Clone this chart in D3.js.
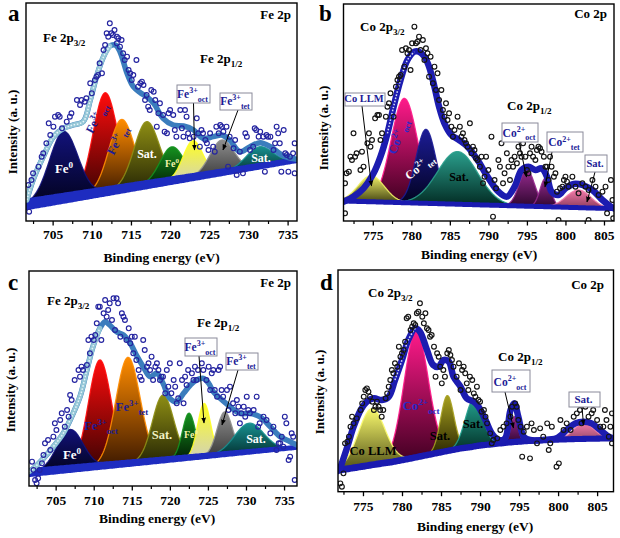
<!DOCTYPE html>
<html><head><meta charset="utf-8">
<script src="https://cdn.jsdelivr.net/npm/d3@7"></script>
<style>
body{margin:0;background:#fff;}
svg text{font-family:"Liberation Serif","Times New Roman",serif;font-weight:bold;}
</style></head><body>
<svg id="chart" width="620" height="538"></svg>
<script>
// ---------------- DATA ----------------
const xTicksFe = [705,710,715,720,725,730,735];
const xTicksCo = [775,780,785,790,795,800,805];
const xMinorFe = [702.5,707.5,712.5,717.5,722.5,727.5,732.5];
const xMinorCo = [772.5,777.5,782.5,787.5,792.5,797.5,802.5];

// Panel a (Fe 2p)
const aPeakNames = ["Fe0","Fe3+ oct","Fe3+ tet","Sat.","Fe0","Fe3+ oct","Fe3+ tet","Sat."];
const aPeakCenters = [706.4,711.7,713.8,717.0,720.2,722.9,726.6,731.4];
const aPeakHeights = [200,296,208,189,101,109,97,58];
const aPeakWidths  = [1.8,1.55,1.6,1.6,1.5,1.25,1.5,1.7];
const aBackground = [[701.6,50],[736.2,183]];
const aEnvelope = [[701.7,63],[702.5,123],[703.8,193],[705.1,253],[706.4,278],[707.6,288],[708.9,298],[709.8,363],[710.6,433],[711.5,493],[712.3,525],[713.0,528],[713.6,508],[714.5,443],[715.3,403],[716.2,385],[717.0,373],[717.9,353],[719.1,308],[720.4,288],[721.7,285],[723.0,273],[724.2,248],[725.5,253],[726.6,258],[727.6,243],[728.9,208],[730.2,223],[731.5,235],[732.8,223],[734.5,195],[736.2,185]];
const aPoints = [[701.9,108],[702.0,28],[702.3,123],[702.5,143],[703.2,163],[703.6,193],[703.8,203],[704.2,233],[704.5,293],[704.7,258],[705.1,283],[705.3,313],[705.7,318],[705.9,313],[706.2,278],[706.8,298],[707.2,313],[707.4,323],[708.1,363],[708.5,348],[708.7,363],[709.1,358],[709.3,368],[709.8,413],[710.0,383],[710.4,423],[710.6,433],[710.8,438],[711.0,473],[711.3,443],[711.5,513],[711.7,528],[711.9,563],[712.1,553],[712.3,593],[712.5,563],[712.7,558],[712.9,573],[713.2,553],[713.4,548],[713.2,533],[713.6,523],[713.8,543],[714.0,503],[714.2,483],[714.5,493],[714.7,453],[714.9,443],[715.1,423],[715.3,438],[715.7,483],[715.9,403],[716.2,413],[716.4,418],[716.6,408],[716.8,363],[717.0,378],[717.2,343],[717.4,333],[717.6,393],[717.9,388],[718.1,363],[718.3,283],[718.5,323],[718.7,353],[719.1,318],[719.3,268],[719.6,263],[719.8,323],[720.0,333],[720.4,318],[720.6,273],[720.8,253],[721.3,333],[721.5,278],[721.7,253],[721.9,333],[722.1,313],[722.3,263],[722.5,248],[723.0,253],[723.4,308],[723.6,263],[723.8,223],[724.0,273],[724.2,263],[724.5,243],[724.7,233],[724.9,213],[725.1,263],[725.5,223],[725.7,208],[725.9,283],[726.2,263],[726.4,288],[726.6,283],[726.8,268],[727.2,283],[727.4,163],[727.6,253],[728.1,218],[728.3,243],[728.5,138],[728.9,208],[729.3,143],[729.6,263],[729.8,253],[730.2,213],[730.6,223],[730.8,278],[731.0,273],[731.3,253],[731.5,268],[731.9,253],[732.1,148],[732.3,258],[732.5,253],[732.8,253],[733.2,213],[733.4,233],[733.6,283],[733.8,263],[734.0,233],[734.2,148],[734.5,273],[734.7,203],[734.9,198],[735.1,148],[735.3,193],[735.7,203],[735.9,233],[735.9,143]];

// Panel b (Co 2p)
const bPeakNames = ["Co LLM","Co2+ oct","Co2+ tet","Sat.","Co2+ oct","Co2+ tet","Sat."];
const bPeakCenters = [774.8,779.1,781.9,786.0,795.0,797.4,801.7];
const bPeakHeights = [78,313,222,158,109,85,53];
const bPeakWidths  = [1.7,1.7,1.3,2.6,1.0,0.7,1.6];
const bBackground = [[771.2,60],[806.3,37]];
const bEnvelope = [[771.2,58],[772.5,73],[773.8,98],[775.1,143],[776.0,193],[776.9,263],[777.7,343],[778.6,423],[779.5,483],[780.4,508],[781.0,508],[781.7,493],[782.3,463],[783.0,403],[783.6,343],[784.3,293],[785.2,258],[786.2,243],[787.3,223],[788.6,183],[789.9,133],[791.3,88],[792.4,73],[793.4,103],[794.3,153],[795.2,163],[796.1,153],[796.9,158],[797.6,133],[798.2,88],[799.1,78],[800.0,98],[801.1,111],[802.2,108],[803.5,93],[804.8,63],[805.9,43],[806.3,38]];
const bPoints = [[771.4,113],[771.4,23],[771.6,143],[771.9,148],[772.1,193],[772.3,183],[772.5,263],[772.7,193],[772.9,203],[773.4,153],[773.6,208],[773.8,163],[774.3,233],[774.5,263],[774.7,223],[774.9,243],[775.3,308],[775.6,318],[775.8,318],[776.0,243],[776.2,263],[776.7,313],[776.9,343],[777.1,353],[777.3,383],[777.7,313],[778.0,403],[778.2,423],[778.4,433],[778.6,438],[778.8,513],[779.1,463],[779.3,518],[779.5,503],[779.7,513],[779.9,453],[780.1,533],[780.4,583],[780.6,533],[780.8,538],[781.0,553],[781.2,513],[781.5,543],[781.7,483],[781.9,518],[782.1,503],[782.3,433],[782.5,493],[782.8,413],[783.0,463],[783.2,393],[783.4,443],[783.6,363],[783.9,393],[784.1,333],[784.3,313],[784.5,353],[784.7,303],[784.9,323],[785.2,283],[785.4,253],[785.6,273],[786.0,313],[786.3,283],[786.5,253],[786.7,263],[786.9,243],[787.1,233],[787.3,223],[787.6,293],[787.8,203],[788.0,223],[788.2,213],[788.4,188],[788.6,183],[788.9,163],[789.1,193],[789.3,113],[789.5,133],[789.7,193],[790.0,153],[790.4,253],[790.6,13],[790.8,123],[791.0,98],[791.3,183],[791.5,163],[791.7,233],[791.9,113],[792.1,143],[792.4,203],[792.6,163],[792.8,123],[793.0,183],[793.2,163],[793.4,193],[793.7,173],[793.9,223],[794.1,203],[794.3,193],[794.5,233],[794.8,193],[795.0,153],[795.2,143],[795.4,203],[795.6,223],[795.8,193],[796.1,183],[796.3,213],[796.5,223],[796.7,218],[796.9,208],[797.2,193],[797.4,163],[797.6,163],[797.8,123],[798.0,193],[798.2,163],[798.5,133],[798.7,143],[798.9,88],[799.1,3],[799.3,98],[799.6,103],[799.8,123],[800.0,133],[800.2,118],[800.4,103],[800.9,133],[801.3,103],[801.7,83],[802.2,113],[802.6,103],[803.0,93],[803.5,123],[803.9,103],[804.3,78],[804.8,88],[805.2,103],[805.4,23],[805.9,123],[806.1,63],[806.2,8],[803.0,3]];

// Panel c (Fe 2p)
const cPeakNames = aPeakNames;
const cPeakCenters = [706.9,710.8,714.5,719.1,722.5,724.5,727.2,730.4];
const cPeakHeights = [118,318,318,195,133,158,127,86];
const cPeakWidths  = [1.7,1.5,1.6,1.4,0.85,0.85,1.0,1.9];
const cBackground = [[701.5,40],[736.7,116]];
const cEnvelope = [[701.5,43],[702.1,53],[703.4,83],[704.7,118],[706.0,158],[707.1,208],[708.2,268],[709.1,348],[709.9,418],[710.8,473],[711.5,493],[712.1,483],[713.0,463],[713.9,453],[714.8,428],[715.6,393],[716.5,358],[717.4,328],[718.3,338],[719.1,308],[720.0,263],[720.9,253],[721.8,278],[722.7,303],[723.5,318],[724.4,323],[725.1,308],[725.7,283],[726.6,263],[727.9,238],[729.2,218],[730.5,218],[731.8,208],[733.2,178],[734.5,148],[735.8,133],[736.7,123]];
const cPoints = [[701.9,73],[702.1,48],[702.3,18],[702.5,8],[702.7,23],[702.9,48],[703.2,68],[703.4,93],[703.6,128],[704.0,138],[704.3,108],[704.7,148],[704.9,188],[705.1,168],[705.6,198],[705.8,218],[706.2,178],[706.5,228],[706.7,208],[706.9,273],[707.1,258],[707.5,318],[708.0,348],[708.2,328],[708.4,358],[708.6,348],[709.1,363],[709.3,438],[709.5,398],[709.7,448],[710.0,438],[710.2,453],[710.4,488],[710.6,538],[710.8,538],[711.0,438],[711.3,518],[711.5,558],[711.7,508],[711.9,528],[712.1,548],[712.4,498],[712.6,563],[712.8,468],[713.0,563],[713.2,548],[713.5,448],[713.7,518],[713.9,508],[714.1,498],[714.3,438],[714.6,473],[714.8,428],[715.0,448],[715.2,398],[715.4,448],[715.6,378],[715.9,348],[716.1,328],[716.3,318],[716.5,438],[716.7,408],[717.0,358],[717.2,368],[717.4,348],[717.6,388],[717.8,318],[718.1,358],[718.3,368],[718.5,348],[718.7,318],[718.9,328],[719.1,328],[719.4,278],[719.6,348],[719.8,298],[720.0,368],[720.2,278],[720.5,318],[720.7,298],[720.9,248],[721.1,263],[721.3,368],[721.6,318],[721.8,248],[722.0,328],[722.2,303],[722.4,348],[722.9,338],[723.1,318],[723.3,358],[723.5,318],[723.7,348],[724.0,398],[724.2,368],[724.4,348],[724.8,318],[725.1,358],[725.3,288],[725.5,338],[725.7,348],[725.9,288],[726.2,268],[726.4,348],[726.6,358],[726.8,288],[727.0,268],[727.5,288],[727.7,228],[727.9,298],[728.3,248],[728.6,218],[728.8,258],[729.0,238],[729.2,188],[729.4,218],[729.7,238],[729.9,208],[730.1,268],[730.3,228],[730.5,218],[731.0,228],[731.4,268],[731.6,178],[731.8,188],[732.3,208],[732.7,198],[733.2,158],[733.6,178],[734.0,108],[734.3,128],[734.5,128],[734.7,148],[734.9,118],[735.1,208],[735.3,188],[735.6,78],[735.8,88],[736.0,158],[736.2,148],[736.4,18]];

// Panel d (Co 2p)
const dPeakNames = ["Co LLM","Co2+ oct","Sat.","Sat.","Co2+ oct","Sat."];
const dPeakCenters = [776.1,781.8,785.8,789.2,794.4,803.3];
const dPeakHeights = [169,379,166,141,76,47];
const dPeakWidths  = [1.7,1.55,0.85,1.1,0.45,1.3];
const dBackground = [[771.8,62],[772.0,65],[774.7,75],[776.8,83],[778.9,90],[781.1,100],[783.2,110],[785.3,120],[787.5,130],[789.6,137],[791.7,143],[793.9,148],[796.0,152],[798.1,155],[802.4,158],[807.1,160]];
const dEnvelope = [[772.0,65],[773.0,135],[773.8,195],[774.7,245],[775.5,270],[776.4,280],[777.4,275],[778.3,285],[779.1,335],[780.0,395],[780.8,455],[781.7,490],[782.3,480],[783.2,425],[784.0,380],[784.7,375],[785.3,395],[786.0,390],[786.6,345],[787.5,315],[788.3,280],[789.2,270],[789.8,255],[790.7,215],[791.5,175],[792.4,155],[793.2,160],[793.9,245],[794.4,265],[794.9,225],[795.6,165],[796.4,155],[798.1,155],[799.8,160],[801.1,185],[802.2,205],[803.3,210],[804.3,205],[805.4,185],[806.5,165],[807.1,160]];
const dPoints = [[772.1,25],[772.3,15],[772.5,55],[772.7,145],[773.0,150],[773.2,165],[773.4,195],[773.6,225],[773.8,205],[774.2,220],[774.7,245],[774.9,265],[775.1,285],[775.3,305],[775.5,310],[775.7,300],[775.9,285],[776.2,270],[776.4,245],[776.6,255],[776.8,270],[777.0,255],[777.2,245],[777.4,225],[777.6,245],[777.9,280],[778.1,295],[778.3,315],[778.5,335],[778.7,365],[778.9,355],[779.1,385],[779.4,375],[779.6,435],[779.8,405],[780.0,415],[780.2,425],[780.4,450],[780.6,520],[780.8,525],[781.1,485],[781.3,495],[781.5,505],[781.7,500],[781.9,535],[782.1,540],[782.3,565],[782.6,525],[782.8,505],[783.0,535],[783.2,490],[783.4,485],[783.6,465],[783.8,470],[784.1,435],[784.3,345],[784.5,415],[784.7,405],[784.9,375],[785.1,325],[785.3,365],[785.5,345],[785.8,415],[786.0,425],[786.2,410],[786.4,395],[786.6,375],[787.0,345],[787.3,385],[787.5,305],[787.7,365],[787.9,375],[788.1,355],[788.3,325],[788.5,305],[788.7,345],[789.0,335],[789.2,295],[789.4,285],[789.6,315],[789.8,275],[790.0,270],[790.2,240],[790.5,245],[790.7,225],[790.9,205],[791.3,175],[791.5,145],[791.7,155],[792.2,160],[792.6,185],[793.0,195],[793.4,205],[793.9,225],[794.1,255],[794.5,265],[794.7,255],[794.9,215],[795.2,195],[795.4,105],[795.6,180],[796.0,195],[796.4,100],[796.6,205],[796.9,185],[797.3,145],[797.7,190],[798.1,165],[798.6,205],[798.8,125],[799.0,145],[799.2,195],[799.8,75],[800.1,85],[800.3,215],[800.7,185],[801.1,205],[801.6,185],[802.0,225],[802.4,235],[802.8,245],[803.0,205],[803.5,255],[803.9,225],[804.3,235],[804.5,245],[805.0,215],[805.4,195],[805.8,195],[806.0,245],[806.2,215],[806.5,165],[806.7,195],[806.9,235],[806.9,145]];

// ---------------- STYLES ----------------
const feTop = ['#12127a','#ff0c0c','#ff8c00','#8e8e14','#15921f','#ffff22','#8e8e8e','#189090'];
const feBot = ['#02021c','#3a0202','#3c1800','#262604','#021e04','#d2d2b4','#3a3a3a','#033030'];
const bTop = ['#f2f266','#ff1a8a','#1c1c96','#2a9e8c','#962a8e','#962a8e','#f27aa8'];
const bBot = ['#3e3e10','#3e0020','#02021e','#022a22','#2e062e','#2e062e','#8a3a5a'];
const dTop = ['#fafa6e','#ff1a8a','#a6a020','#22a08e','#9a2a90','#f07aa8'];
const dBot = ['#3a3a0a','#3e0020','#2a2600','#033026','#300630','#9a4a6a'];

const panels = [
 {key:'a', frame:[26,3,297,221], xDom:[701.6,736.2], yMax:654, ticks:xTicksFe, minor:xMinorFe,
  c:aPeakCenters, h:aPeakHeights, w:aPeakWidths, top:feTop, bot:feBot, bg:aBackground, env:aEnvelope, pts:aPoints,
  ptColor:'#2424a0', envColor:'#3b7dbd', envW:5.5, bgColor:'#1e2cc0', band:[12,6], hl:[701.6,712.3], hlColor:'#94c6d6',
  tickPad:4, title:[161.5,262], ytitle:[16.5,132]},
 {key:'b', frame:[343.5,4,614,221], xDom:[771.2,806.3], yMax:651, ticks:xTicksCo, minor:xMinorCo,
  c:bPeakCenters, h:bPeakHeights, w:bPeakWidths, top:bTop, bot:bBot, bg:bBackground, env:bEnvelope, pts:bPoints,
  ptColor:'#151515', envColor:'#1c1cb0', envW:6.5, bgColor:'#1a1ab0', band:[5,5], hl:[776.5,780.4], hlColor:null,
  tickPad:5, title:[479,259], ytitle:[327.5,128]},
 {key:'c', frame:[29,271,297,486], xDom:[701.5,736.7], yMax:645, ticks:xTicksFe, minor:xMinorFe,
  c:cPeakCenters, h:cPeakHeights, w:cPeakWidths, top:feTop, bot:feBot, bg:cBackground, env:cEnvelope, pts:cPoints,
  ptColor:'#2424a0', envColor:'#3b7dbd', envW:5.5, bgColor:'#1e2cc0', band:[9,5], hl:[701.5,711.4], hlColor:'#94c6d6',
  tickPad:5, title:[157,523], ytitle:[14.5,390]},
 {key:'d', frame:[338,270,613.5,491.7], xDom:[771.8,807.1], yMax:665, ticks:xTicksCo, minor:xMinorCo,
  c:dPeakCenters, h:dPeakHeights, w:dPeakWidths, top:dTop, bot:dBot, bg:dBackground, env:dEnvelope, pts:dPoints,
  ptColor:'#151515', envColor:'#1c1cb0', envW:6.5, bgColor:'#1a1ab0', band:[7,6], hl:[778.5,781.7], hlColor:null,
  tickPad:5.5, title:[475,531], ytitle:[323.5,392]}
];

const svg = d3.select('#chart');
const defs = svg.append('defs');
defs.append('marker').attr('id','arr').attr('viewBox','0 0 10 10').attr('refX',9).attr('refY',5)
  .attr('markerWidth',6).attr('markerHeight',6).attr('orient','auto')
  .append('path').attr('d','M0,1 L10,5 L0,9 z').attr('fill','#000');

function rich(g, x, y, parts, o) {
  o = o || {};
  const size = o.size || 12;
  const t = g.append('text')
    .attr('transform', `translate(${x},${y})` + (o.rotate ? ` rotate(${o.rotate})` : ''))
    .attr('text-anchor', o.anchor || 'start')
    .attr('fill', o.color || '#000')
    .style('font-size', size + 'px');
  let cur = 0;
  for (const p of parts) {
    const kind = Array.isArray(p) ? p[1] : 'n';
    const txt = Array.isArray(p) ? p[0] : p;
    const off = kind === 'sup' ? -0.42*size : kind === 'sub' ? 0.32*size : 0;
    t.append('tspan').attr('dy', (off - cur).toFixed(2))
      .style('font-size', (kind === 'n' ? size : size*0.7).toFixed(1) + 'px').text(txt);
    cur = off;
  }
  return t;
}

panels.forEach(P => {
  const [x0,y0,x1,y1] = P.frame;
  const x = d3.scaleLinear().domain(P.xDom).range([x0,x1]);
  const y = d3.scaleLinear().domain([0,P.yMax]).range([y1,y0]);
  const bgF = d3.scaleLinear().domain(P.bg.map(d=>d[0])).range(P.bg.map(d=>d[1]));
  const g = svg.append('g');
  const cid = 'clip' + P.key;
  defs.append('clipPath').attr('id', cid).append('rect').attr('x',x0).attr('y',y0).attr('width',x1-x0).attr('height',y1-y0);
  const inner = g.append('g').attr('clip-path', `url(#${cid})`);

  // component peaks (first component drawn last, on top of its neighbour)
  const order = d3.range(1, P.c.length).concat([0]);
  order.forEach(i => {
    const c = P.c[i], s = P.w[i], h = P.h[i];
    const gid = `grad${P.key}${i}`;
    const gr = defs.append('linearGradient').attr('id',gid).attr('x1',0).attr('y1',0).attr('x2',0).attr('y2',1);
    gr.append('stop').attr('offset','0%').attr('stop-color',P.top[i]);
    gr.append('stop').attr('offset','100%').attr('stop-color',P.bot[i]);
    const xs = d3.range(c-3.4*s, c+3.4*s+1e-9, s/14);
    const area = d3.area().x(e=>x(e)).y0(e=>y(bgF(e))).y1(e=>y(bgF(e) + h*Math.exp(-(e-c)*(e-c)/(2*s*s))));
    inner.append('path').attr('d', area(xs)).attr('fill', `url(#${gid})`)
      .attr('stroke', P.top[i]).attr('stroke-width', 1.3).attr('stroke-opacity', 0.9);
  });

  // background band (thickness tapers left to right)
  const bx = d3.range(P.xDom[0]-0.5, P.xDom[1]+0.5, 0.25);
  const hw = d3.scaleLinear().domain(P.xDom).range([P.band[0]/2, P.band[1]/2]);
  inner.append('path').attr('d', d3.area().x(e=>x(e)).y0(e=>y(bgF(e))+hw(e)).y1(e=>y(bgF(e))-hw(e)).curve(d3.curveMonotoneX)(bx))
    .attr('fill',P.bgColor);

  // envelope
  const envLine = d3.line().x(d=>x(d[0])).y(d=>y(d[1])).curve(d3.curveCatmullRom.alpha(0.5));
  inner.append('path').attr('d', envLine(P.env)).attr('fill','none').attr('stroke',P.envColor)
    .attr('stroke-width',P.envW).attr('stroke-linejoin','round').attr('stroke-linecap','round');
  const hlPts = P.env.filter(d => d[0] >= P.hl[0] && d[0] <= P.hl[1]);
  if (P.hlColor) {
    inner.append('path').attr('d', envLine(hlPts)).attr('fill','none').attr('stroke',P.hlColor)
      .attr('stroke-width',P.envW-0.5).attr('stroke-linecap','round');
  }
  inner.append('path').attr('d', envLine(hlPts)).attr('fill','none').attr('stroke','#f4fbff')
    .attr('stroke-width',1.5).attr('stroke-dasharray','1.6,1.6').attr('opacity',0.85);

  // data points
  inner.selectAll('circle.pt').data(P.pts).join('circle').attr('class','pt')
    .attr('cx', d=>x(d[0])).attr('cy', d=>y(d[1])).attr('r', 2.4)
    .attr('fill','none').attr('stroke',P.ptColor).attr('stroke-width',1.15);

  // frame
  g.append('rect').attr('x',x0).attr('y',y0).attr('width',x1-x0).attr('height',y1-y0)
    .attr('fill','none').attr('stroke','#000').attr('stroke-width',1.4);

  // axes
  const minorAxis = d3.axisBottom(x).tickValues(P.minor.filter(v=>v>P.xDom[0]&&v<P.xDom[1])).tickSize(3).tickFormat('');
  g.append('g').attr('transform',`translate(0,${y1})`).call(minorAxis)
    .call(a=>a.select('.domain').remove()).selectAll('line').attr('stroke','#000').attr('stroke-width',1.2);
  const majorAxis = d3.axisBottom(x).tickValues(P.ticks).tickSize(4.5).tickPadding(P.tickPad).tickFormat(d3.format('d'));
  const ax = g.append('g').attr('transform',`translate(0,${y1})`).call(majorAxis);
  ax.select('.domain').remove();
  ax.selectAll('line').attr('stroke','#000').attr('stroke-width',1.3);
  ax.selectAll('text').attr('fill','#000').style('font-size','13.5px')
    .style('font-family','"Liberation Serif",serif').style('font-weight','bold');

  g.append('text').attr('x',P.title[0]).attr('y',P.title[1]).attr('text-anchor','middle')
    .style('font-size','13.5px').text('Binding energy (eV)');
  g.append('text').attr('transform',`translate(${P.ytitle[0]},${P.ytitle[1]}) rotate(-90)`)
    .attr('text-anchor','middle').style('font-size','13px').text('Intensity (a. u.)');
});

// ---------------- ANNOTATIONS ----------------
const A = svg.append('g');
const FeOct = ['Fe',['3+','sup'],['oct','sub']];
const FeTet = ['Fe',['3+','sup'],['tet','sub']];
const Fe0 = ['Fe',['0','sup']];
const CoOct = ['Co',['2+','sup'],['oct','sub']];
const CoTet = ['Co',['2+','sup'],['tet','sub']];
const blueT = '#1c1c96';

[['a',8,21],['b',319,21],['c',8,290],['d',320,290]].forEach(([t,x,y]) =>
  A.append('text').attr('x',x).attr('y',y).style('font-size','23px').text(t));
rich(A,291,19,['Fe 2p'],{size:13,anchor:'end'});
rich(A,607,18,['Co 2p'],{size:13,anchor:'end'});
rich(A,291,287,['Fe 2p'],{size:13,anchor:'end'});
rich(A,604,289,['Co 2p'],{size:13,anchor:'end'});
rich(A,43,42,['Fe 2p',['3/2','sub']],{size:13});
rich(A,200,63,['Fe 2p',['1/2','sub']],{size:13});
rich(A,47,305,['Fe 2p',['3/2','sub']],{size:13});
rich(A,197,327,['Fe 2p',['1/2','sub']],{size:13});
rich(A,360,31,['Co 2p',['3/2','sub']],{size:13});
rich(A,507,110,['Co 2p',['1/2','sub']],{size:13});
rich(A,368,297,['Co 2p',['3/2','sub']],{size:13});
rich(A,498,361,['Co 2p',['1/2','sub']],{size:13});

function boxLabel(bx,by,bw,bh,parts,arrow,size) {
  if (arrow) A.append('line').attr('x1',arrow[0]).attr('y1',arrow[1]).attr('x2',arrow[2]).attr('y2',arrow[3])
    .attr('stroke','#000').attr('stroke-width',1).attr('marker-end','url(#arr)');
  A.append('rect').attr('x',bx).attr('y',by).attr('width',bw).attr('height',bh)
    .attr('fill','#fff').attr('stroke','#8a8a9a').attr('stroke-width',1);
  rich(A, bx+bw/2-1, by+bh*0.72, parts, {size:size||11.5, anchor:'middle', color:blueT});
}
boxLabel(177,85,33,18,FeOct,[193.5,103,194.5,150]);
boxLabel(220,93,32,17,FeTet,[238,110,223,150]);
boxLabel(185,338,32,18,FeOct,[199,356,204,423]);
boxLabel(226,353,32,17,FeTet,[238,370,222,425]);
boxLabel(345,93,40,13,['Co LLM'],[362,106,371.5,186],10.5);
boxLabel(502,123,36,19,CoOct,[519,142,526.5,177]);
boxLabel(547,132,36,20,CoTet,[552,152,545,187]);
boxLabel(585,155,22,17,['Sat.'],[595,172,587,202],10.5);
boxLabel(492,370,38,22,CoOct,[505,392,513.5,428]);
boxLabel(569,392,31,15,['Sat.'],[582,407,583.5,425],11);

rich(A,64,173,Fe0,{size:13,anchor:'middle',color:'#ffffff'});
rich(A,100,120,FeOct,{size:12,anchor:'middle',color:blueT,rotate:-62});
rich(A,121,142,FeTet,{size:12,anchor:'middle',color:blueT,rotate:-62});
rich(A,147,158,['Sat.'],{size:12,anchor:'middle',color:'#ffffff'});
rich(A,172,167,Fe0,{size:10,anchor:'middle',color:'#f2f2a8'});
rich(A,261,162,['Sat.'],{size:12,anchor:'middle',color:'#ffffff'});

rich(A,402,138,CoOct,{size:12.5,anchor:'middle',color:'#2a2ac8',rotate:-70});
rich(A,422,170,CoTet,{size:12,anchor:'middle',color:'#ffffff',rotate:-38});
rich(A,459,181,['Sat.'],{size:12,anchor:'middle',color:'#000'});

rich(A,72,459,Fe0,{size:13,anchor:'middle',color:'#ffffff'});
rich(A,101,430,FeOct,{size:12.5,anchor:'middle',color:blueT});
rich(A,132,411,FeTet,{size:12.5,anchor:'middle',color:blueT});
rich(A,162,439,['Sat.'],{size:12.5,anchor:'middle',color:'#f2f2c4'});
rich(A,191,438,Fe0,{size:10,anchor:'middle',color:'#f2f2a8'});
rich(A,256,443,['Sat.'],{size:12,anchor:'middle',color:'#ffffff'});

rich(A,421,410,CoOct,{size:13,anchor:'middle',color:'#2a2ac8'});
rich(A,373,455,['Co LLM'],{size:12.5,anchor:'middle',color:'#000'});
rich(A,440,440,['Sat.'],{size:12.5,anchor:'middle',color:'#000'});
rich(A,473,428,['Sat.'],{size:12.5,anchor:'middle',color:'#000'});
</script></body></html>
